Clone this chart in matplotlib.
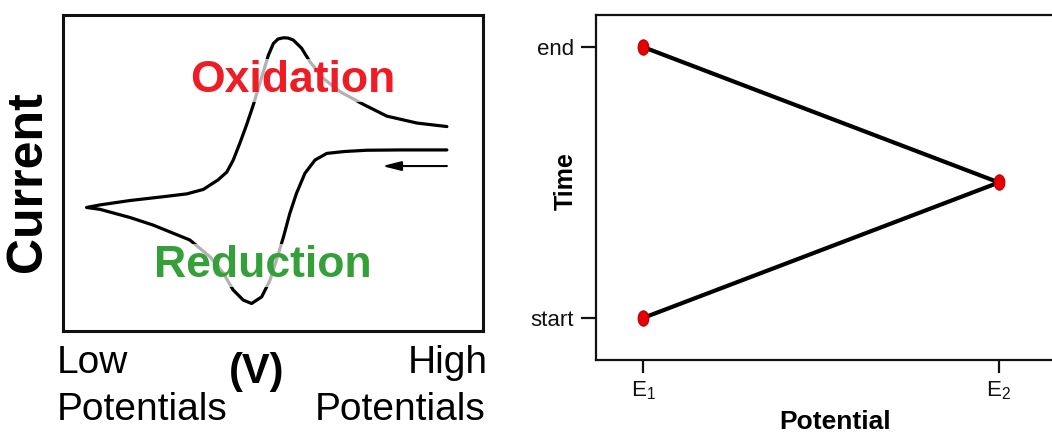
import matplotlib
matplotlib.use("Agg")
import matplotlib.pyplot as plt
from matplotlib.path import Path
from matplotlib.transforms import Affine2D

plt.rcParams['font.family'] = ['Liberation Sans', 'DejaVu Sans']
plt.rcParams['mathtext.fontset'] = 'custom'
plt.rcParams['mathtext.rm'] = 'Liberation Sans'
plt.rcParams['mathtext.it'] = 'Liberation Sans:italic'
plt.rcParams['mathtext.bf'] = 'Liberation Sans:bold'

# ---------------- data: cyclic voltammogram (arbitrary units) ----------------
# scan starts at high potential, sweeps to low (reduction), then back (oxidation)
cv_potential = [0.914, 0.802, 0.723, 0.670, 0.628, 0.600, 0.576, 0.556, 0.540,
                0.525, 0.513, 0.493, 0.473, 0.449, 0.429, 0.405, 0.382, 0.350,
                0.302, 0.215, 0.160, 0.088, 0.056,
                0.088, 0.160, 0.239, 0.295, 0.334, 0.369, 0.390, 0.405, 0.421,
                0.437, 0.453, 0.465, 0.477, 0.489, 0.501, 0.512, 0.525, 0.536,
                0.548, 0.568, 0.588, 0.620, 0.660, 0.714, 0.771, 0.843, 0.914]
cv_current = [0.573, 0.573, 0.572, 0.568, 0.562, 0.541, 0.499, 0.436, 0.372,
              0.298, 0.245, 0.161, 0.108, 0.087, 0.098, 0.130, 0.183, 0.235,
              0.288, 0.335, 0.359, 0.385, 0.391,
              0.399, 0.413, 0.425, 0.434, 0.448, 0.478, 0.503, 0.540, 0.594,
              0.652, 0.715, 0.768, 0.820, 0.873, 0.910, 0.924, 0.928, 0.927,
              0.921, 0.895, 0.852, 0.799, 0.757, 0.718, 0.680, 0.658, 0.647]
scan_arrow_from = (0.914, 0.522)
scan_arrow_to = (0.760, 0.522)
oxidation_label = "Oxidation"
reduction_label = "Reduction"

# ---------------- data: potential waveform ----------------
wave_potential = [0.0, 1.0, 0.0]      # E1 -> E2 -> E1
wave_time = [0.0, 0.5, 1.0]           # start -> middle -> end
potential_ticks = [0.0, 1.0]
potential_ticklabels = [r'$\mathregular{E_1}$', r'$\mathregular{E_2}$']
time_ticks = [0.0, 1.0]
time_ticklabels = ['start', 'end']

W, H = 1052, 432
fig = plt.figure(figsize=(W / 100, H / 100), dpi=100)

# ---------------- left panel ----------------
ax1 = fig.add_axes([63 / W, 1 - 331 / H, 420 / W, 316 / H])
ax1.set_xlim(0, 1)
ax1.set_ylim(0, 1)
ax1.set_xticks([])
ax1.set_yticks([])
for s in ax1.spines.values():
    s.set_linewidth(2.2)
    s.set_color('#111111')
ax1.plot(cv_potential, cv_current, color='black', lw=2.3,
         solid_joinstyle='round', solid_capstyle='round', zorder=2)
ax1.annotate('', xy=scan_arrow_to, xytext=scan_arrow_from,
             arrowprops=dict(arrowstyle='-|>,head_length=0.8,head_width=0.2',
                             mutation_scale=14, lw=1.5, color='black',
                             shrinkA=0, shrinkB=0))
box = dict(facecolor='white', alpha=0.7, edgecolor='none', pad=1)
ax1.text(0.548, 0.756, oxidation_label, color='#ee1c25', fontsize=32,
         fontweight='bold', ha='center', va='baseline', bbox=box, zorder=3)
ax1.text(0.475, 0.171, reduction_label, color='#35a03a', fontsize=32,
         fontweight='bold', ha='center', va='baseline', bbox=box, zorder=3)

fig.text(28 / W, 1 - 182 / H, 'Current', rotation=90, fontsize=36,
         fontweight='bold', ha='center', va='center')
fig.text(57 / W, 1 - 373 / H, 'Low', fontsize=28, ha='left', va='baseline')
fig.text(57 / W, 1 - 420 / H, 'Potentials', fontsize=28, ha='left', va='baseline')
fig.text(488 / W, 1 - 373 / H, 'High', fontsize=28, ha='right', va='baseline')
fig.text(485 / W, 1 - 420 / H, 'Potentials', fontsize=28, ha='right', va='baseline')
fig.text(257 / W, 1 - 372 / H, '(V)', fontsize=30, fontweight='bold',
         ha='center', va='center')

# ---------------- right panel ----------------
ax2 = fig.add_axes([596 / W, 1 - 360 / H, 478 / W, 345 / H])
ax2.set_xlim(-0.132, 1.211)
ax2.set_ylim(-0.155, 1.118)
for s in ax2.spines.values():
    s.set_linewidth(1.6)
    s.set_color('#111111')

ell = Path.unit_circle().transformed(Affine2D().scale(0.7, 1.0))
ax2.plot(wave_potential, wave_time, color='black', lw=3.0, zorder=2,
         solid_capstyle='round')
ax2.plot(wave_potential, wave_time, linestyle='none', marker=ell,
         markersize=11, markerfacecolor='#e60000', markeredgecolor='#b00000',
         markeredgewidth=0.8, zorder=3)

ax2.set_xticks(potential_ticks, labels=potential_ticklabels)
ax2.set_yticks(time_ticks, labels=time_ticklabels)
ax2.tick_params(axis='both', direction='out', width=1.6, labelsize=16,
                colors='#111111')
ax2.tick_params(axis='x', length=9, pad=5)
ax2.tick_params(axis='y', length=11, pad=5)

ax2.set_xlabel('Potential', fontsize=19, fontweight='bold')
ax2.xaxis.set_label_coords(0.5, -0.2)
ax2.xaxis.label.set_va('baseline')
ax2.set_ylabel('Time', fontsize=18, fontweight='bold')
ax2.yaxis.set_label_coords(-0.063, 0.519)
ax2.yaxis.label.set_va('center')

fig.savefig('out.png', dpi=100)
